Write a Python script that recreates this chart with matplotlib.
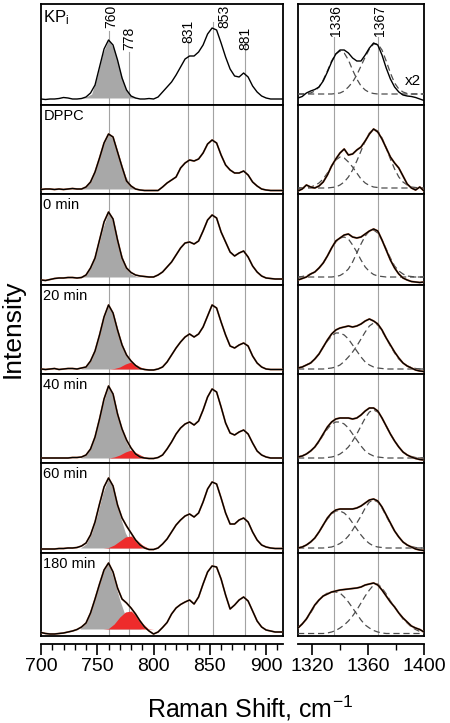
import matplotlib
matplotlib.use("Agg")
import matplotlib.pyplot as plt
from matplotlib.ticker import MultipleLocator, FixedLocator
import numpy as np

plt.rcParams['font.family'] = ['Liberation Sans', 'DejaVu Sans']
plt.rcParams['mathtext.fontset'] = 'custom'
plt.rcParams['mathtext.rm'] = 'Liberation Sans'
plt.rcParams['mathtext.it'] = 'Liberation Sans:italic'

# ---------------- data (intensity, arbitrary units) ----------------
panel_labels = ['KP$_\\mathregular{i}$', 'DPPC', '0 min', '20 min', '40 min', '60 min', '180 min']

# left region: 700..916 cm-1, step 4
x_left = np.arange(700, 917, 4)
spec_kpi = [6, 5.5, 6, 6, 6.5, 7.5, 7, 6, 6, 6.5, 8,
            12, 20, 38, 56, 65, 60, 45, 27, 15, 9, 7,
            6, 6, 6.5, 6, 8, 13, 18, 23, 30, 38, 46,
            49, 49, 53, 60, 71, 77, 75, 62, 48, 36, 29,
            28, 32, 28, 19, 13, 9, 7, 6, 6, 6, 6]
spec_dppc = [4.5, 5, 5, 4.5, 5, 4.5, 5, 5.5, 5, 5, 7,
             12, 22, 36, 51, 60, 57, 42, 27, 13, 8, 5,
             4, 3.5, 3.5, 3.5, 3.5, 7, 11, 14, 17, 26, 31,
             34, 33, 35, 41, 50, 54, 51, 39, 29, 24, 21,
             21, 23, 19, 12, 8, 5, 4, 3.5, 3.5, 3.5, 3.5]
spec_0 = [5, 4.5, 5.5, 6.5, 7, 7, 7.5, 7.5, 7, 7.5, 10,
          17, 27, 45, 63, 73, 66, 45, 27, 17, 12.5, 10,
          9, 8.5, 8, 8, 10, 13, 18, 23, 30, 37, 42,
          43, 41, 44, 54, 65, 70, 67, 53, 43, 33, 29,
          32, 34, 28, 19, 13, 9, 7, 6.5, 6, 6, 6]
spec_20 = [5, 4.5, 5, 5.5, 4.5, 5, 5.5, 5.5, 5, 6, 7,
           13, 23, 39, 57, 69, 61, 44, 29, 19, 13, 8.5,
           5.5, 4.5, 4, 4, 5, 7, 12, 19, 26, 32, 37,
           40, 37, 40, 47, 58, 69, 66, 52, 39, 28, 26,
           29, 31, 28, 18, 11, 7, 5, 4.5, 4.5, 4.5, 4.5]
spec_40 = [5, 5, 5, 5, 5, 5, 5, 5.5, 5.5, 6, 8,
           14, 26, 44, 64, 77, 69, 49, 34, 23, 15, 9,
           6, 5, 4.5, 4.5, 5.5, 8, 14, 21, 29, 35, 39,
           41, 38, 42, 53, 66, 74, 71, 56, 40, 30, 28,
           31, 33, 29, 20, 12, 8, 6, 5, 5, 5, 5]
spec_60 = [4, 4, 4, 4, 4.5, 4.5, 5, 5, 5.5, 7, 10,
           18, 31, 49, 66, 75, 67, 48, 35, 27, 20, 13,
           8, 5, 3.5, 3.5, 5, 9, 14, 21, 28, 33, 37,
           39, 36, 40, 51, 64, 71, 69, 55, 40, 29, 29,
           33, 35, 31, 21, 13, 8, 6, 5, 4.5, 4.5, 4.5]
spec_180 = [3.5, 2.5, 2, 2, 2.5, 3, 4, 5, 6.5, 9, 13,
            23, 37, 52, 66, 73, 64, 48, 37, 33, 28, 22,
            15, 9, 5, 2, 4, 8.5, 13.5, 22, 28, 31.5, 34,
            36, 32, 39, 52, 64, 70, 69, 57, 41, 27, 31,
            36, 39, 35, 25, 15, 9, 6, 5, 4, 4, 4]

# fitted bands at 760 (grey) and 778 (red): 735..800, step 5
x_band = np.arange(735, 801, 5)
band_base = [7, 5, 8, 5, 5, 5, 7]
band760 = [
    [7, 8, 11, 29, 52, 65, 56, 35, 17, 9, 7, 7, 7, 7],
    [5, 7, 14, 29, 48, 60, 54, 36, 18, 8, 5, 5, 5, 5],
    [8, 10, 19, 35, 57, 73, 61, 36, 19, 11, 8.5, 8, 8, 8],
    [5, 7, 15, 31, 53, 69, 58, 37, 21, 11, 6, 5, 5, 5],
    [5, 8, 17, 35, 59, 77, 64, 41, 23, 11, 6, 5, 5, 5],
    [5, 9, 20, 38, 60, 75, 62, 38, 20, 10, 6, 5, 5, 5],
    [8, 13, 27, 46, 64, 73, 56, 36, 20, 11, 8, 7, 7, 7],
]
band778 = [
    None, None, None,
    [5, 5, 5, 5, 5, 5, 5.5, 7, 10, 12, 9, 6, 5, 5],
    [5, 5, 5, 5, 5, 5, 6, 8, 11, 13, 10, 7, 5, 5],
    [5, 5, 5, 5, 5, 5.5, 8, 12, 16, 17, 13, 8, 5, 5],
    [7, 7, 7, 7, 7, 7.5, 12, 19, 24, 25, 20, 13, 7.5, 7],
]

# right region: 1310..1400 cm-1, step 3
x_right = np.arange(1310, 1401, 3)
r_kpi = [7, 8.5, 12, 14, 15.5, 18, 24, 33, 43, 51, 55, 55, 52, 47, 44, 44, 50, 57, 62, 60,
         50, 37, 26, 18, 13, 10, 9, 8.5, 7.5, 6, 4.5]
r_dppc = [3, 5, 9, 7, 6, 8, 12, 19, 28, 35, 41, 45, 39, 40, 44, 47, 53, 60, 65, 62,
          55, 46, 37, 31, 26, 18, 10, 6, 4, 7, 3]
r_0 = [5, 6.5, 8, 11, 13, 17, 22, 29, 37, 44, 47, 50, 51, 48, 47, 48, 51, 54, 56, 54,
       45, 35, 25, 17, 11, 7, 5, 3.5, 3, 2.5, 3]
r_20 = [6, 7, 9, 11, 15, 20, 27, 34, 40, 44, 46, 47, 48, 47, 48, 50, 53, 55, 53, 50,
        44, 36, 29, 22, 16, 11, 8, 6, 4, 3, 2.5]
r_40 = [6, 7, 9, 12, 16, 22, 29, 36, 41, 44, 45, 45, 45, 44, 45, 48, 52, 55, 55, 52,
        45, 37, 29, 22, 16, 11, 8, 6, 4.5, 3.5, 3]
r_60 = [5, 6, 8, 11, 15, 21, 28, 35, 40, 43, 44, 44, 44, 44, 45, 47, 50, 53, 54, 52,
        46, 38, 30, 22, 16, 11, 8, 6, 4, 3, 2.5]
r_180 = [8, 12, 17, 24, 31, 36, 40, 42, 44, 45, 46, 46.5, 47, 47.5, 48, 49, 51, 52, 53, 51,
         46, 40, 34, 29, 23, 18, 14, 10, 8, 6.5, 4]

g1336 = [
    [11, 11, 11.5, 12, 14, 18, 25, 34, 44, 51, 54, 52, 45, 35, 26, 19, 15, 12.5, 11.5, 11,
     11, 11, 11, 11, 11, 11, 11, 11, 11, 11, 11],
    [6, 6, 6.5, 7, 8.5, 11, 15, 21, 28, 34, 37, 36, 32, 27, 21, 15, 11, 8.5, 7, 6.5,
     6, 6, 6, 6, 6, 6, 6, 6, 6, 6, 6],
    [8, 8.5, 9.5, 11, 13, 17, 22, 29, 37, 43, 47, 48, 46, 40, 33, 25, 18, 13.5, 10.5, 9,
     8.5, 8, 8, 8, 8, 8, 8, 8, 8, 8, 8],
    [6, 7, 9, 11, 15, 20, 27, 33, 38, 41, 41, 39, 35, 29, 23, 17, 12, 9, 7, 6,
     5.5, 5, 5, 5, 5, 5, 5, 5, 5, 5, 5],
    [6, 7, 9, 12, 16, 21, 28, 34, 39, 41, 41, 39, 35, 29, 23, 17, 12, 9, 7, 6,
     5.5, 5, 5, 5, 5, 5, 5, 5, 5, 5, 5],
    [5, 6, 8, 11, 15, 21, 28, 34, 39, 42, 42, 40, 36, 30, 24, 18, 13, 9.5, 7, 6,
     5.5, 5, 5, 5, 5, 5, 5, 5, 5, 5, 5],
    [8, 12, 17, 23, 30, 36, 40, 43, 44, 44, 43, 39, 34, 28, 22, 16, 11, 8, 5.5, 4,
     3, 2.5, 2.5, 2.5, 2.5, 2.5, 2.5, 2.5, 2.5, 2.5, 2.5],
]
g1367 = [
    [11, 11, 11, 11, 11, 11, 11, 11, 11, 11.5, 12, 14, 18, 23, 30, 39, 48, 56, 61, 61,
     55, 44, 32, 22, 16, 13, 11.5, 11, 11, 11, 11],
    [6, 6, 6, 6, 6, 6, 6, 6, 6.5, 7, 9, 12, 17, 24, 33, 43, 53, 61, 65, 63,
     56, 46, 35, 25, 17, 12, 9, 7, 6.5, 6, 6],
    [8, 8, 8, 8, 8, 8, 8, 8, 8, 8.5, 9.5, 12, 16, 23, 32, 41, 49, 54, 55, 52,
     45, 36, 27, 19, 14, 11, 9, 8.5, 8, 8, 8],
    [5, 5, 5, 5, 5, 5, 5, 5.5, 6, 7, 9, 12.5, 17, 22, 28, 35, 42, 48, 51, 49,
     43, 36, 28, 21, 15, 11, 8, 6.5, 5.5, 5, 5],
    [5, 5, 5, 5, 5, 5, 5, 5.5, 6, 7, 9, 12, 16, 22, 29, 37, 45, 51, 53, 51,
     45, 37, 29, 22, 16, 11, 8, 6.5, 5.5, 5, 5],
    [5, 5, 5, 5, 5, 5, 5, 5.5, 6, 7.5, 9.5, 12.5, 17, 23, 30, 37, 45, 51, 53, 51,
     45, 37, 29, 22, 16, 11, 8, 6.5, 5.5, 5, 5],
    [2.5, 2.5, 2.5, 2.5, 2.5, 2.5, 2.5, 3, 4, 5.5, 8, 11, 15, 20, 26, 33, 40, 46, 51, 52,
     48, 42, 35, 29, 23, 17, 13, 9, 6.5, 4.5, 3.5],
]

left_spectra = [spec_kpi, spec_dppc, spec_0, spec_20, spec_40, spec_60, spec_180]
right_spectra = [r_kpi, r_dppc, r_0, r_20, r_40, r_60, r_180]

left_marks = [760, 778, 831, 853, 881]
left_mark_tops = [0.73, 0.525, 0.64, 0.82, 0.59]
left_label_x = [762, 778, 831, 863, 882]
left_label_top = [1, 23, 16, 1, 23]          # px below panel top
right_marks = [1336, 1367]
right_mark_tops = [0.67, 0.67]
right_label_x = [1337, 1368.5]

# ---------------- layout ----------------
W, H = 450, 723
rows = [4, 105, 194, 285, 374, 463, 553, 636]
xl0, xl1 = 41, 283
xr0, xr1 = 298, 424

fig = plt.figure(figsize=(W / 100, H / 100), dpi=100)

vcol = '#a3a3a3'
grey = '#a8a8a8'
red = '#ee2b2b'
fitc = '#c8764e'
dashc = '#4d4d4d'

for i in range(7):
    top, bot = rows[i], rows[i + 1]
    ph = bot - top
    axL = fig.add_axes([xl0 / W, 1 - bot / H, (xl1 - xl0) / W, ph / H])
    axR = fig.add_axes([xr0 / W, 1 - bot / H, (xr1 - xr0) / W, ph / H])
    for ax in (axL, axR):
        ax.set_ylim(0, ph)
        for s in ax.spines.values():
            s.set_linewidth(1.3)
        ax.set_yticks([])
    axL.set_xlim(700, 915)
    axR.set_xlim(1310, 1400)

    # vertical marker lines
    for j, m in enumerate(left_marks):
        axL.axvline(m, ymax=(left_mark_tops[j] if i == 0 else 1), color=vcol, lw=0.8, zorder=1)
    for j, m in enumerate(right_marks):
        axR.axvline(m, ymax=(right_mark_tops[j] if i == 0 else 1), color=vcol, lw=0.8, zorder=1)

    # bands
    base = band_base[i]
    axL.fill_between(x_band, base, band760[i], color=grey, lw=0, zorder=2)
    if band778[i] is not None:
        axL.fill_between(x_band, base, band778[i], color=red, lw=0, zorder=3)
    if i > 0:
        axL.plot(x_left, left_spectra[i], color=fitc, lw=1.3, zorder=4)
    axL.plot(x_left, left_spectra[i], color='black', lw=1.0, zorder=5)

    # right: components
    axR.plot(x_right, g1336[i], color=dashc, lw=0.9, ls=(0, (5, 3)), zorder=3)
    axR.plot(x_right, g1367[i], color=dashc, lw=0.9, ls=(0, (5, 3)), zorder=3)
    if i > 0:
        axR.plot(x_right, right_spectra[i], color=fitc, lw=1.4, zorder=4)
    axR.plot(x_right, right_spectra[i], color='black', lw=1.0, zorder=5)

    axL.text(0.01, 1 - 4 / ph, panel_labels[i], transform=axL.transAxes,
             ha='left', va='top', fontsize=(12 if i == 0 else 10.5))

    if i == 0:
        for j, m in enumerate(left_marks):
            axL.text(left_label_x[j], ph - left_label_top[j], str(m), rotation=90,
                     ha='center', va='top', fontsize=10)
        for j, m in enumerate(right_marks):
            axR.text(right_label_x[j], ph - 1, str(m), rotation=90,
                     ha='center', va='top', fontsize=10)
        axR.text(1398, 0.24 * ph, 'x2', ha='right', va='center', fontsize=11)

    if i < 6:
        for ax in (axL, axR):
            ax.set_xticks([])
    else:
        axL.xaxis.set_major_locator(FixedLocator([700, 750, 800, 850, 900]))
        axL.xaxis.set_minor_locator(MultipleLocator(10))
        axR.xaxis.set_major_locator(FixedLocator([1320, 1360, 1400]))
        axR.xaxis.set_minor_locator(FixedLocator([1340, 1380]))
        for ax in (axL, axR):
            ax.spines['bottom'].set_position(('outward', 6))
            ax.axhline(0, color='black', lw=1.3, zorder=6, clip_on=False)
            ax.tick_params(axis='x', which='major', length=8, width=1.2, labelsize=14, pad=2)
            ax.tick_params(axis='x', which='minor', length=4, width=1.0)

fig.text(0.027, 0.545, 'Intensity', rotation=90, ha='center', va='center', fontsize=19)
fig.text(0.555, 0.021, 'Raman Shift, cm$^{\\mathregular{-1}}$', ha='center', va='center', fontsize=18)

fig.savefig('out.png', dpi=100)
